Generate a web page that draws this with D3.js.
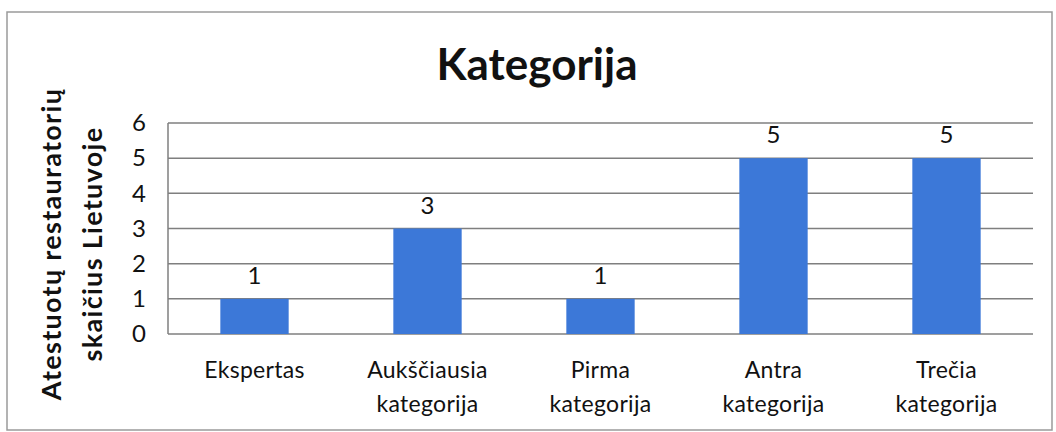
<!DOCTYPE html>
<html><head><meta charset="utf-8">
<script src="https://cdn.jsdelivr.net/npm/d3@7"></script>
<style>body{margin:0;background:#fff;} svg{display:block;}</style>
</head><body>
<svg id="c" width="1056" height="432"></svg>
<script>
const categories = [["Ekspertas"], ["Aukščiausia","kategorija"], ["Pirma","kategorija"], ["Antra","kategorija"], ["Trečia","kategorija"]];
const values = [1, 3, 1, 5, 5];
const yTicks = [0, 1, 2, 3, 4, 5, 6];
const title = "Kategorija";
const yTitle = ["Atestuotų restauratorių", "skaičius Lietuvoje"];

const svg = d3.select("#c");
const font = "Lato, 'Open Sans', sans-serif";
const m = {left: 168, right: 1033, top: 123, bottom: 334};

svg.append("rect").attr("x", 7).attr("y", 12).attr("width", 1045).attr("height", 418)
  .attr("fill", "#fff").attr("stroke", "#9a9a9a").attr("stroke-width", 1.5);

const x = d3.scaleBand().domain(categories.map((d, i) => i)).range([m.left, m.right]).padding(0);
const y = d3.scaleLinear().domain([0, 6]).range([m.bottom, m.top]);

// gridlines
svg.append("g").selectAll("line").data(yTicks).join("line")
  .attr("x1", m.left).attr("x2", m.right)
  .attr("y1", d => y(d)).attr("y2", d => y(d))
  .attr("stroke", "#7f7f7f").attr("stroke-width", 1.5);
svg.append("line").attr("x1", m.left).attr("x2", m.left).attr("y1", m.top).attr("y2", m.bottom)
  .attr("stroke", "#7f7f7f").attr("stroke-width", 1.5);

// y tick labels
const yAxis = d3.axisLeft(y).tickValues(yTicks).tickSize(0).tickPadding(22).tickFormat(d3.format("d"));
const ga = svg.append("g").attr("transform", `translate(${m.left},0)`).call(yAxis);
ga.select(".domain").remove();
ga.selectAll("text").attr("font-family", font).attr("font-size", 24).attr("fill", "#111");

// bars
const bw = x.bandwidth() * 0.395;
svg.append("g").selectAll("rect").data(values).join("rect")
  .attr("x", (d, i) => x(i) + x.bandwidth() / 2 - bw / 2)
  .attr("width", bw)
  .attr("y", d => y(d))
  .attr("height", d => y(0) - y(d))
  .attr("fill", "#3c78d8");

// data labels
svg.append("g").selectAll("text").data(values).join("text")
  .attr("x", (d, i) => x(i) + x.bandwidth() / 2)
  .attr("y", d => y(d) - 15)
  .attr("text-anchor", "middle")
  .attr("font-family", font).attr("font-size", 24).attr("fill", "#111")
  .text(d => d);

// category labels
const cg = svg.append("g").selectAll("text").data(categories).join("text")
  .attr("x", (d, i) => x(i) + x.bandwidth() / 2)
  .attr("y", 378)
  .attr("text-anchor", "middle")
  .attr("font-family", font).attr("font-size", 23).attr("letter-spacing", 0.3).attr("fill", "#111");
cg.selectAll("tspan").data(d => d).join("tspan")
  .attr("x", function() { return d3.select(this.parentNode).attr("x"); })
  .attr("dy", (d, i) => i === 0 ? 0 : 34)
  .text(d => d);

// title
svg.append("text").attr("x", 537).attr("y", 80).attr("text-anchor", "middle")
  .attr("font-family", font).attr("font-weight", "bold").attr("font-size", 44).attr("fill", "#111")
  .text(title);

// y axis title
svg.append("g").selectAll("text").data(yTitle).join("text")
  .attr("transform", (d, i) => `translate(${i === 0 ? 61 : 102},244) rotate(-90)`)
  .attr("text-anchor", "middle")
  .attr("font-family", font).attr("font-weight", "bold").attr("font-size", 27).attr("letter-spacing", 1.3).attr("fill", "#111")
  .text(d => d);
</script>
</body></html>
